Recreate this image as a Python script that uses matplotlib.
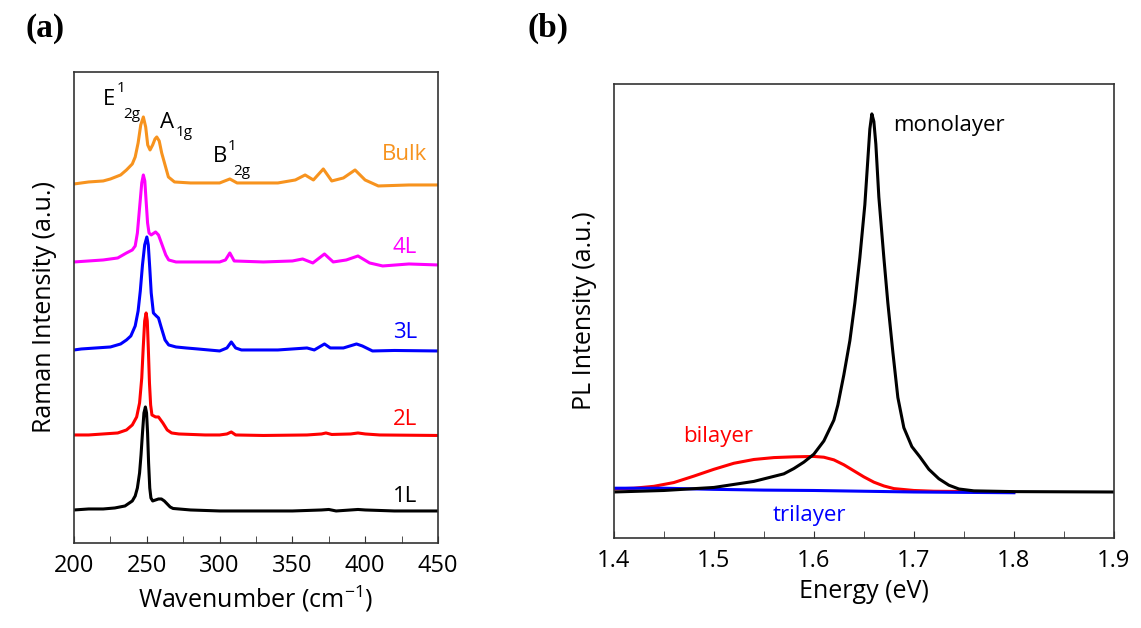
import matplotlib
matplotlib.use("Agg")
import matplotlib.pyplot as plt
from matplotlib.ticker import MultipleLocator

plt.rcParams['font.family'] = ['Open Sans', 'DejaVu Sans']

# ---- panel (a): Raman spectra (wavenumber, offset intensity) ----
wn_1L = [200, 210, 220, 228, 235, 240, 242, 243.5, 245, 246, 247, 248, 249, 249.8, 250.5, 251.2, 252,
         252.8, 254, 256, 258, 260, 262, 264, 266, 268, 272, 280, 300, 320, 350, 370, 375, 380, 395,
         400, 420, 450]
int_1L = [0.33, 0.34, 0.34, 0.35, 0.37, 0.42, 0.47, 0.55, 0.70, 0.88, 1.10, 1.30, 1.36, 1.30, 1.10, 0.80,
          0.55, 0.45, 0.42, 0.43, 0.44, 0.44, 0.42, 0.39, 0.36, 0.345, 0.34, 0.33, 0.32, 0.32, 0.32, 0.33,
          0.335, 0.32, 0.335, 0.33, 0.32, 0.32]

wn_2L = [200, 210, 220, 230, 236, 240, 243, 245, 246.5, 247.5, 248.5, 249.5, 250.3, 251, 251.8, 252.6,
         253.5, 256, 258, 261, 264, 267, 272, 290, 300, 305, 308, 311, 330, 360, 370, 373, 377, 390, 395,
         400, 410, 450]
int_2L = [1.08, 1.08, 1.09, 1.10, 1.13, 1.18, 1.26, 1.40, 1.65, 1.95, 2.22, 2.30, 2.22, 1.95, 1.60, 1.38,
          1.28, 1.26, 1.26, 1.20, 1.13, 1.10, 1.09, 1.08, 1.08, 1.09, 1.11, 1.08, 1.075, 1.08, 1.09, 1.10,
          1.085, 1.09, 1.10, 1.09, 1.08, 1.075]

wn_3L = [200, 205, 215, 225, 232, 236, 239, 242, 244, 245.5, 247, 248.5, 250, 251, 252, 253, 254.5, 256.5,
         258, 260, 262.5, 265, 270, 277, 285, 300, 305, 308, 311, 315, 340, 360, 365, 372, 376, 385, 394,
         398, 405, 420, 450]
int_3L = [1.93, 1.94, 1.95, 1.96, 1.99, 2.03, 2.07, 2.17, 2.32, 2.52, 2.78, 2.98, 3.06, 2.98, 2.75, 2.50,
          2.30, 2.27, 2.25, 2.15, 2.03, 1.98, 1.96, 1.95, 1.94, 1.92, 1.95, 2.01, 1.95, 1.93, 1.93, 1.95,
          1.93, 1.99, 1.95, 1.95, 1.99, 1.97, 1.92, 1.925, 1.92]

wn_4L = [200, 210, 220, 230, 236, 240, 242, 243.5, 245, 246.5, 247.6, 248.6, 249.5, 250.5, 251.5, 253,
         256, 258, 261, 263, 265, 270, 285, 300, 304, 307, 310, 330, 350, 357, 364, 372, 378, 387, 395,
         403, 412, 430, 450]
int_4L = [2.81, 2.82, 2.83, 2.85, 2.90, 2.93, 2.97, 3.10, 3.35, 3.60, 3.68, 3.62, 3.42, 3.20, 3.10, 3.08,
          3.11, 3.08, 2.96, 2.88, 2.83, 2.81, 2.81, 2.81, 2.83, 2.90, 2.82, 2.81, 2.82, 2.84, 2.80, 2.89,
          2.81, 2.83, 2.87, 2.80, 2.77, 2.79, 2.78]

wn_bulk = [200, 210, 220, 225, 232, 236, 240, 242, 244, 245.8, 247.6, 249.2, 250.6, 252.2, 254, 255.6,
           256.8, 258.5, 260.2, 262.5, 264.8, 269, 280, 300, 307, 312, 340, 352, 358.7, 364.4, 371.2, 377,
           385, 393, 399.9, 409, 430, 450]
int_bulk = [3.59, 3.61, 3.62, 3.64, 3.68, 3.73, 3.79, 3.86, 4.00, 4.18, 4.26, 4.16, 3.98, 3.93, 3.98, 4.04,
            4.06, 4.02, 3.90, 3.78, 3.66, 3.61, 3.60, 3.60, 3.64, 3.60, 3.60, 3.63, 3.68, 3.63, 3.74, 3.62,
            3.65, 3.73, 3.63, 3.57, 3.58, 3.58]

raman_labels = ["1L", "2L", "3L", "4L", "Bulk"]
raman_label_y = [0.46, 1.23, 2.10, 2.95, 3.88]
raman_colors = ["black", "#ff0000", "#0000ff", "#ff00ff", "#f7931e"]

# ---- panel (b): PL spectra (energy in eV, normalised intensity) ----
e_mono = [1.40, 1.45, 1.50, 1.54, 1.57, 1.58, 1.59, 1.60, 1.61, 1.62, 1.624, 1.630, 1.636, 1.641, 1.646,
          1.651, 1.654, 1.656, 1.658, 1.660, 1.662, 1.665, 1.670, 1.674, 1.679, 1.684, 1.690, 1.698, 1.706,
          1.715, 1.725, 1.735, 1.745, 1.76, 1.80, 1.90]
i_mono = [0.000, 0.004, 0.012, 0.028, 0.048, 0.062, 0.079, 0.100, 0.135, 0.19, 0.23, 0.31, 0.40, 0.50,
          0.62, 0.76, 0.88, 0.96, 1.00, 0.98, 0.92, 0.78, 0.62, 0.50, 0.37, 0.25, 0.17, 0.12, 0.093, 0.06,
          0.035, 0.018, 0.008, 0.003, 0.001, 0.000]

e_bi = [1.40, 1.42, 1.44, 1.46, 1.48, 1.50, 1.52, 1.54, 1.56, 1.58, 1.60, 1.61, 1.62, 1.63, 1.64, 1.65,
        1.66, 1.67, 1.68, 1.70, 1.72, 1.76, 1.80]
i_bi = [0.008, 0.010, 0.015, 0.025, 0.042, 0.060, 0.076, 0.086, 0.091, 0.093, 0.094, 0.092, 0.085, 0.072,
        0.056, 0.040, 0.026, 0.016, 0.009, 0.004, 0.002, 0.001, 0.000]

e_tri = [1.40, 1.45, 1.50, 1.55, 1.60, 1.65, 1.70, 1.80]
i_tri = [0.010, 0.010, 0.007, 0.005, 0.004, 0.002, 0.000, -0.002]

fig = plt.figure(figsize=(11.41, 6.28), dpi=100)
ax1 = fig.add_axes([0.0649, 0.1354, 0.319, 0.75])
ax2 = fig.add_axes([0.538, 0.1433, 0.4382, 0.7229])

spectra = [(wn_1L, int_1L), (wn_2L, int_2L), (wn_3L, int_3L), (wn_4L, int_4L), (wn_bulk, int_bulk)]
for (x, y), col, lab, ly in zip(spectra, raman_colors, raman_labels, raman_label_y):
    ax1.plot(x, y, color=col, lw=2.2, solid_joinstyle='round')
    ax1.text(427.3, ly, lab, color=col, fontsize=16, ha='center', va='center')

# mode labels: main letter, superscript and subscript set as separate pieces
big, small = 16, 11
ax1.text(219.9, 4.43, "E", fontsize=big, ha='left', va='center')
ax1.text(229.5, 4.54, "1", fontsize=small, ha='left', va='center')
ax1.text(233.7, 4.28, "2g", fontsize=small, ha='left', va='center')
ax1.text(259.1, 4.20, "A", fontsize=big, ha='left', va='center')
ax1.text(269.6, 4.10, "1g", fontsize=small, ha='left', va='center')
ax1.text(295.5, 3.86, "B", fontsize=big, ha='left', va='center')
ax1.text(305.8, 3.96, "1", fontsize=small, ha='left', va='center')
ax1.text(309.5, 3.71, "2g", fontsize=small, ha='left', va='center')

ax1.set_xlim(200, 450)
ax1.set_ylim(0, 4.71)
ax1.xaxis.set_major_locator(MultipleLocator(50))
ax1.xaxis.set_minor_locator(MultipleLocator(25))
ax1.set_yticks([])
ax1.set_xlabel(r"Wavenumber (cm$^{\mathregular{-1}}$)", fontsize=18)
ax1.set_ylabel("Raman Intensity (a.u.)", fontsize=18, labelpad=12)

ax2.plot(e_bi, i_bi, color="#ff0000", lw=2.2)
ax2.plot(e_tri, i_tri, color="#0000ff", lw=2.2)
ax2.plot(e_mono, i_mono, color="black", lw=2.2, solid_joinstyle='round')
ax2.text(1.679, 0.968, "monolayer", fontsize=16, ha='left', va='center')
ax2.text(1.504, 0.148, "bilayer", color="#ff0000", fontsize=16, ha='center', va='center')
ax2.text(1.596, -0.063, "trilayer", color="#0000ff", fontsize=16, ha='center', va='center')
ax2.set_xlim(1.4, 1.9)
ax2.set_ylim(-0.1217, 1.079)
ax2.xaxis.set_major_locator(MultipleLocator(0.1))
ax2.xaxis.set_minor_locator(MultipleLocator(0.05))
ax2.set_yticks([])
ax2.set_xlabel("Energy (eV)", fontsize=18)
ax2.set_ylabel("PL Intensity (a.u.)", fontsize=18, labelpad=12)

for ax in (ax1, ax2):
    for sp in ax.spines.values():
        sp.set_color("#333333")
        sp.set_linewidth(1.2)
    ax.tick_params(axis='x', which='both', direction='in', labelsize=17, color="#333333", pad=8)
    ax.tick_params(axis='x', which='major', length=5)
    ax.tick_params(axis='x', which='minor', length=5)

fig.text(0.022, 1 - 28 / 628, "(a)", fontsize=24, fontweight='bold', family='Liberation Serif',
         ha='left', va='center')
fig.text(0.462, 1 - 28 / 628, "(b)", fontsize=24, fontweight='bold', family='Liberation Serif',
         ha='left', va='center')

fig.savefig("out.png", dpi=100)
